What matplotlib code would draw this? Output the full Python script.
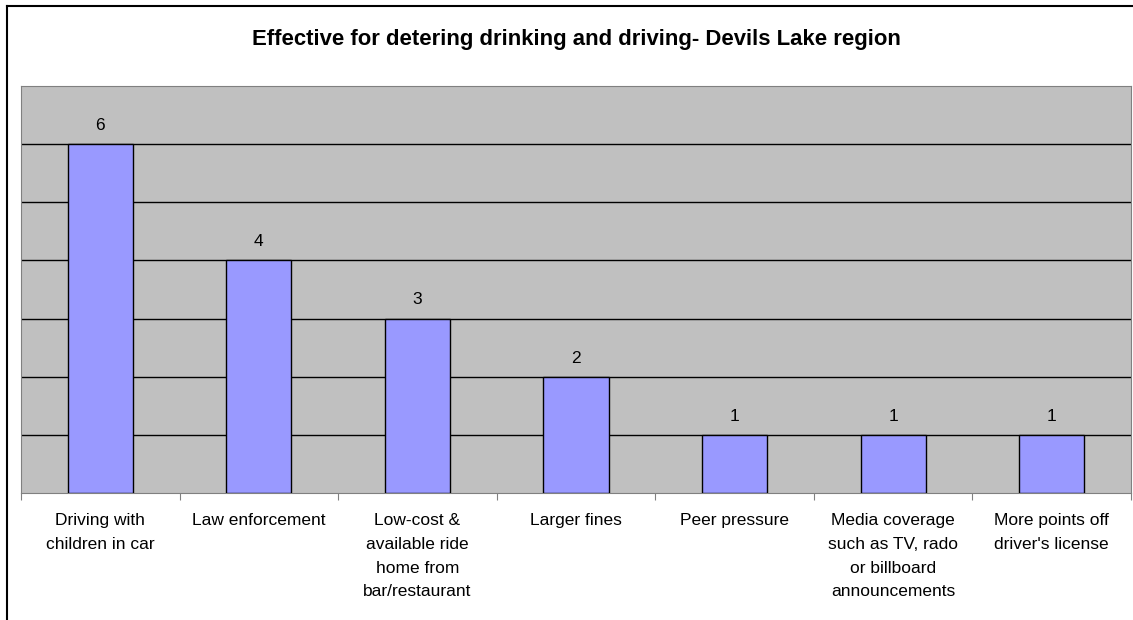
import matplotlib
matplotlib.use('Agg')
import matplotlib.pyplot as plt
import numpy as np
from matplotlib.lines import Line2D

# Data
CATEGORIES = ['Driving with\nchildren in car',
              'Law enforcement',
              'Low-cost &\navailable ride\nhome from\nbar/restaurant',
              'Larger fines',
              'Peer pressure',
              'Media coverage\nsuch as TV, rado\nor billboard\nannouncements',
              "More points off\ndriver's license"]
COUNTS = [6, 4, 3, 2, 1, 1, 1]
TITLE = 'Effective for detering drinking and driving- Devils Lake region'

plt.rcParams['font.family'] = ['Liberation Sans', 'DejaVu Sans']

fig = plt.figure(figsize=(11.33, 6.2), dpi=100)
ax = fig.add_axes([21/1133, 1 - 493/620, (1131-21)/1133, (493-86)/620])

x = np.arange(len(CATEGORIES))
ax.set_facecolor('#C0C0C0')
ax.bar(x, COUNTS, width=0.41, color='#9999FF', edgecolor='black', linewidth=1, zorder=3)
ax.set_xlim(-0.5, len(CATEGORIES) - 0.5)
ax.set_ylim(0, 7)
for v in range(1, 7):
    ax.axhline(v, color='black', linewidth=1, zorder=1)

for xi, v in zip(x, COUNTS):
    ax.annotate(str(v), (xi, v), xytext=(0, 8), textcoords='offset points',
                ha='center', va='bottom', fontsize=12.5)

ax.set_yticks(range(0, 8))
ax.set_yticklabels([])
ax.tick_params(axis='y', length=0)
ax.set_xticks(np.arange(-0.5, len(CATEGORIES)), minor=False)
ax.set_xticklabels([])
ax.tick_params(axis='x', which='major', length=5, color='#808080', direction='out')
ax.set_xticks(x, minor=True)
ax.set_xticklabels(CATEGORIES, minor=True, fontsize=12.5, linespacing=1.73)
ax.tick_params(axis='x', which='minor', length=0, pad=14.5)

for s in ['left', 'top', 'right', 'bottom']:
    ax.spines[s].set_color('#808080')

fig.text(576/1133, 1 - 39/620, TITLE, ha='center', va='center', fontsize=15.9, fontweight='bold')

# outer chart frame (left and top edges visible)
fig.add_artist(Line2D([7/1133, 7/1133], [0, 1 - 6/620], transform=fig.transFigure, color='black', linewidth=1.5))
fig.add_artist(Line2D([7/1133, 1], [1 - 6/620, 1 - 6/620], transform=fig.transFigure, color='black', linewidth=1.5))

fig.savefig('out.png', dpi=100)
